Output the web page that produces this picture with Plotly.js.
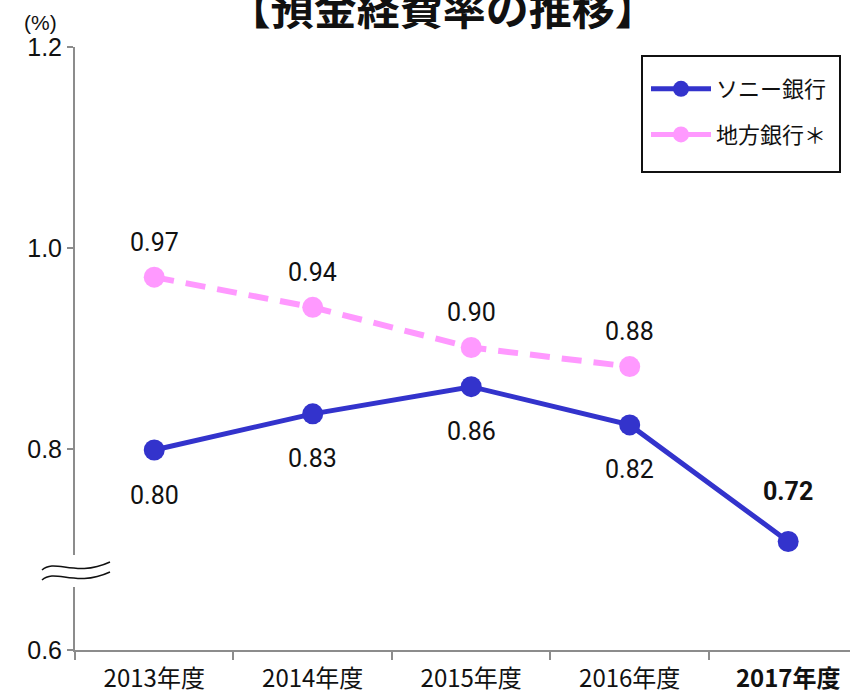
<!DOCTYPE html>
<html><head><meta charset="utf-8">
<script src="https://cdn.plot.ly/plotly-3.0.1.min.js"></script>
<style>html,body{margin:0;padding:0;background:#fff;}#c{width:850px;height:697px;}</style>
</head><body><div id="c"></div>
<script>
var categories = ['2013年度','2014年度','2015年度','2016年度','2017年度'];
var tickLabels = ['2013年度','2014年度','2015年度','2016年度','<b>2017年度</b>'];
var sonyValues = [0.799, 0.835, 0.862, 0.824, 0.708];
var sonyLabels = ['0.80','0.83','0.86','0.82','0.72'];
var regionalValues = [0.971, 0.941, 0.901, 0.882];
var regionalLabels = ['0.97','0.94','0.90','0.88'];
var seriesNames = ['ソニー銀行','地方銀行＊'];

var BLUE = '#3333CC', PINK = '#FF99FF';
var L = 75, T = 47, W = 775, H = 603;
function px(x){ return (x - L) / W; }
function py(y){ return (T + H - y) / H; }

var traces = [
  {x: categories, y: sonyValues, type: 'scatter', mode: 'lines+markers', showlegend: false,
   line: {color: BLUE, width: 5}, marker: {color: BLUE, size: 21}, hoverinfo: 'skip'},
  {x: categories.slice(0, regionalValues.length), y: regionalValues, type: 'scatter', mode: 'lines+markers', showlegend: false,
   line: {color: PINK, width: 6, dash: '20px,12px'}, marker: {color: PINK, size: 21}, hoverinfo: 'skip'},
  {x: [null], y: [null], type: 'scatter', mode: 'lines+markers', name: seriesNames[0], legendgroup: 'a',
   line: {color: BLUE, width: 5}, marker: {color: BLUE, size: 18}},
  {x: [null], y: [null], type: 'scatter', mode: 'lines+markers', name: seriesNames[1], legendgroup: 'b',
   line: {color: PINK, width: 5}, marker: {color: PINK, size: 18}}
];

var annotations = [];
var labelFont = {family: 'Roboto, Liberation Sans, Arial', size: 25, color: '#111'};
sonyValues.forEach(function(v, i){
  var last = i === sonyValues.length - 1;
  annotations.push({x: categories[i], y: v, xref: 'x', yref: 'y', showarrow: false,
    text: last ? '<b>' + sonyLabels[i] + '</b>' : sonyLabels[i],
    yshift: last ? 50 : -45, font: labelFont});
});
regionalValues.forEach(function(v, i){
  annotations.push({x: categories[i], y: v, xref: 'x', yref: 'y', showarrow: false,
    text: regionalLabels[i], yshift: 35, font: labelFont});
});
annotations.push({xref: 'paper', yref: 'paper', x: px(40), y: py(22), xanchor: 'center', yanchor: 'middle',
  showarrow: false, text: '(%)', font: {family: 'Liberation Sans, Arial', size: 21, color: '#111'}});

function wave(y0){
  return 'M' + px(42) + ',' + py(y0 + 4) +
    ' C' + px(55) + ',' + py(y0 - 8) + ' ' + px(75) + ',' + py(y0 + 12) + ' ' + px(110) + ',' + py(y0 - 4);
}

var shapes = [
  {type: 'rect', xref: 'paper', yref: 'paper', x0: px(68), x1: px(82), y0: py(587), y1: py(555),
   fillcolor: '#fff', line: {width: 0}, layer: 'above'},
  {type: 'path', xref: 'paper', yref: 'paper', path: wave(566), line: {color: '#111', width: 1.5}, layer: 'above'},
  {type: 'path', xref: 'paper', yref: 'paper', path: wave(576), line: {color: '#111', width: 1.5}, layer: 'above'},
  {type: 'rect', xref: 'paper', yref: 'paper', x0: px(642), x1: px(840), y0: py(172), y1: py(56),
   fillcolor: 'rgba(0,0,0,0)', line: {color: '#111', width: 2}, layer: 'above'}
];

var layout = {
  width: 850, height: 697,
  margin: {l: L, r: 0, t: T, b: 697 - T - H},
  paper_bgcolor: '#fff', plot_bgcolor: '#fff',
  title: {text: '<b>【預金経費率の推移】</b>', x: 0.521, xanchor: 'center', y: 1 - 10/697, yanchor: 'middle',
    font: {family: 'Noto Sans CJK JP', size: 43, color: '#111'}},
  xaxis: {type: 'category', range: [-0.5, 4.39], showline: true, linecolor: '#8c8c8c', linewidth: 2,
    tickvals: categories, ticktext: tickLabels, tickson: 'boundaries', ticks: 'outside', ticklen: 8,
    tickcolor: '#8c8c8c', tickwidth: 2, showgrid: false, zeroline: false, ticklabelstandoff: 6,
    tickfont: {family: 'Noto Sans CJK JP', size: 24, color: '#111'}},
  yaxis: {range: [0.6, 1.2], dtick: 0.2, tick0: 0.6, tickformat: '.1f', showline: true, linecolor: '#8c8c8c',
    linewidth: 2, ticks: 'outside', ticklen: 6, tickcolor: '#8c8c8c', tickwidth: 2, showgrid: false, zeroline: false,
    tickfont: {family: 'Liberation Sans, Arial', size: 25, color: '#111'}},
  showlegend: true,
  legend: {x: px(646), y: py(68), xanchor: 'left', yanchor: 'top', borderwidth: 0,
    bgcolor: 'rgba(0,0,0,0)', traceorder: 'grouped', tracegroupgap: 14, itemwidth: 60,
    font: {family: 'Noto Sans CJK JP', size: 22, color: '#111'}},
  annotations: annotations, shapes: shapes
};
Plotly.newPlot('c', traces, layout, {displayModeBar: false, staticPlot: true});
</script></body></html>
